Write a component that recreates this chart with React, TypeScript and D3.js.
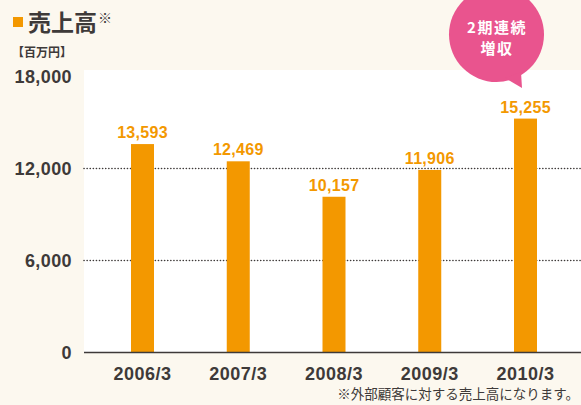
import React from "react";
import * as d3 from "d3";

const categories = ["2006/3", "2007/3", "2008/3", "2009/3", "2010/3"];
const sales = [13593, 12469, 10157, 11906, 15255];
const yTicks = [0, 6000, 12000, 18000];
const gridTicks = [6000, 12000];

const W = 581;
const H = 405;
const ORANGE = "#f39800";
const DARK = "#3e3a39";
const PINK = "#e9548e";
const CREAM = "#fcf8ef";
const NUM_FONT = "'Liberation Sans', Arial, Helvetica, sans-serif";
const JP_FONT = "'Noto Sans CJK JP', 'Noto Sans', sans-serif";

export default function App() {
  const plotLeft = 84;
  const plotTop = 70;
  const y = d3.scaleLinear().domain([0, 18000]).range([352.5, 76.5]);
  const x = d3.scalePoint<string>().domain(categories).range([142.5, 525.5]);
  const barW = 23;
  const fmt = d3.format(",");

  return (
    <div style={{ position: "absolute", left: 0, top: 0 }}>
      <svg width={W} height={H} style={{ display: "block" }}>
        <rect x={0} y={0} width={W} height={H} fill={CREAM} />
        <rect x={plotLeft} y={plotTop} width={W - plotLeft} height={y(0) - plotTop} fill="#ffffff" />

        {/* title */}
        <rect x={13} y={17} width={10} height={10} fill={ORANGE} />
        <text x={28} y={31} fontFamily={JP_FONT} fontWeight={700} fontSize={23} fill={DARK}>売上高</text>
        <text x={98} y={23} fontFamily={JP_FONT} fontWeight={400} fontSize={14} fill={DARK}>※</text>
        <text x={12} y={57} fontFamily={JP_FONT} fontWeight={700} fontSize={12} fill={DARK}>【百万円】</text>

        {/* grid lines */}
        {gridTicks.map((t) => (
          <line key={t} x1={plotLeft} x2={W} y1={y(t)} y2={y(t)} stroke={DARK} strokeWidth={1.6}
            strokeDasharray="0.1 3" strokeLinecap="round" />
        ))}

        {/* y labels */}
        {yTicks.map((t) => (
          <text key={t} x={72} y={y(t)} dy="0.36em" textAnchor="end" fontFamily={NUM_FONT}
            fontWeight={700} fontSize={18} letterSpacing={0.4} fill={DARK}>{fmt(t)}</text>
        ))}

        {/* bars */}
        {categories.map((c, i) => (
          <g key={c}>
            <rect x={(x(c) as number) - barW / 2} y={y(sales[i])} width={barW} height={y(0) - y(sales[i])} fill={ORANGE} />
            <text x={x(c)} y={y(sales[i]) - 6} textAnchor="middle" fontFamily={NUM_FONT} fontWeight={700}
              fontSize={16} letterSpacing={0.3} fill={ORANGE}>{fmt(sales[i])}</text>
            <text x={x(c)} y={380} textAnchor="middle" fontFamily={NUM_FONT} fontWeight={700}
              fontSize={18} letterSpacing={0.5} fill={DARK}>{c}</text>
          </g>
        ))}

        {/* baseline */}
        <line x1={plotLeft} x2={W} y1={y(0)} y2={y(0)} stroke={DARK} strokeWidth={1.5} />

        {/* bubble */}
        <circle cx={496.5} cy={34.5} r={47.5} fill={PINK} />
        <path d="M505,78 L522,88 L521,72 Z" fill={PINK} />
        <text x={497} y={32.5} textAnchor="middle" fontFamily={JP_FONT} fontWeight={700} fontSize={15}
          letterSpacing={1.5} fill="#ffffff">2期連続</text>
        <text x={497} y={54} textAnchor="middle" fontFamily={JP_FONT} fontWeight={700} fontSize={15}
          letterSpacing={1.5} fill="#ffffff">増収</text>

        {/* footnote */}
        <text x={579} y={399} textAnchor="end" fontFamily={JP_FONT} fontWeight={400} fontSize={13.5}
          fill={DARK}>※外部顧客に対する売上高になります。</text>
      </svg>
    </div>
  );
}
